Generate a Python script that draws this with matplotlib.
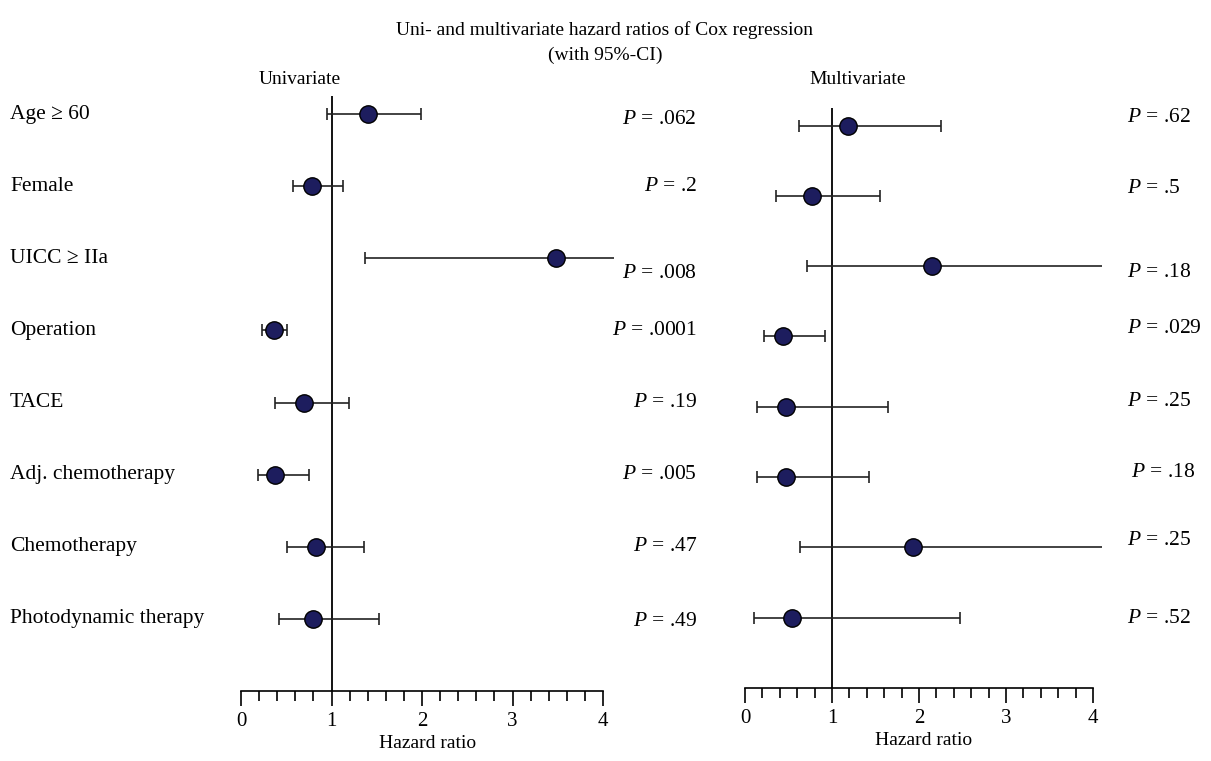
import matplotlib

matplotlib.use("Agg")
import matplotlib.pyplot as plt
import matplotlib.transforms as mtransforms
from matplotlib.ticker import MultipleLocator

plt.rcParams["font.family"] = ["Liberation Serif", "DejaVu Serif"]
plt.rcParams["mathtext.fontset"] = "custom"
plt.rcParams["mathtext.rm"] = "Liberation Serif"
plt.rcParams["mathtext.it"] = "Liberation Serif:italic"

LABELS = [
    "Age \u2265 60", "Female", "UICC \u2265 IIa", "Operation",
    "TACE", "Adj. chemotherapy", "Chemotherapy", "Photodynamic therapy",
]

# univariate hazard ratios with 95% CI
UNI_HR = [1.40, 0.79, 3.48, 0.36, 0.70, 0.38, 0.83, 0.80]
UNI_LO = [0.95, 0.57, 1.37, 0.23, 0.38, 0.19, 0.51, 0.42]
UNI_HI = [1.99, 1.13, 8.80, 0.51, 1.19, 0.75, 1.36, 1.53]
UNI_P = [".062", ".2", ".008", ".0001", ".19", ".005", ".47", ".49"]

# multivariate hazard ratios with 95% CI
MULTI_HR = [1.18, 0.77, 2.15, 0.44, 0.47, 0.47, 1.93, 0.54]
MULTI_LO = [0.62, 0.36, 0.71, 0.22, 0.14, 0.14, 0.63, 0.10]
MULTI_HI = [2.25, 1.55, 6.40, 0.92, 1.64, 1.43, 5.70, 2.47]
MULTI_P = [".62", ".5", ".18", ".029", ".25", ".18", ".25", ".52"]

W, H = 1211, 761
FS = 14          # titles, axis text
FS_ROW = 15.5    # row labels and p-values
DOT = "#1d1d5e"


def px(x0, y_top, x1, y_bot):
    # pixel box -> figure-fraction rect
    return [x0 / W, (H - y_bot) / H, (x1 - x0) / W, (y_bot - y_top) / H]


def forest(ax, hr, lo, hi, xmax):
    rows = list(range(len(hr)))
    err = [[h - l for h, l in zip(hr, lo)], [u - h for h, u in zip(hr, hi)]]
    ax.errorbar(hr, rows, xerr=err, fmt="none", ecolor="#222222", elinewidth=1.2,
                capsize=4.5, capthick=1.2, zorder=2)
    ax.plot(hr, rows, "o", ms=12.5, mfc=DOT, mec="black", mew=1.0, zorder=3, ls="none")
    ax.axvline(1, color="black", lw=1.3, zorder=1)
    ax.set_xlim(0, xmax)
    ax.set_ylim(8, -0.25)
    for s in ("top", "left", "right"):
        ax.spines[s].set_visible(False)
    ax.spines["bottom"].set_bounds(0, 4)
    ax.spines["bottom"].set_linewidth(1.2)
    ax.set_yticks([])
    ax.set_xticks([0, 1, 2, 3, 4])
    ax.xaxis.set_minor_locator(MultipleLocator(0.2))
    ax.tick_params(axis="x", which="major", length=11, width=1.2, labelsize=15, pad=4)
    ax.tick_params(axis="x", which="minor", length=7, width=1.2)
    ax.set_xlabel("Hazard ratio", fontsize=FS, labelpad=3)
    ax.patch.set_alpha(0)


fig = plt.figure(figsize=(W / 100, H / 100), dpi=100)
ax1 = fig.add_axes(px(241, 96, 241 + 4.12 * 90.5, 691))
ax2 = fig.add_axes(px(745, 108, 745 + 4.1 * 87, 688))

forest(ax1, UNI_HR, UNI_LO, UNI_HI, 4.12)
forest(ax2, MULTI_HR, MULTI_LO, MULTI_HI, 4.1)

# row labels
t1 = mtransforms.blended_transform_factory(fig.transFigure, ax1.transData)
for i, lab in enumerate(LABELS):
    ax1.text(10 / W, i, lab, transform=t1, ha="left", va="center", fontsize=FS_ROW)

# p-values
uni_dy = [0.07, 0, 0.21, 0, 0, 0, 0, 0.03]
for i, p in enumerate(UNI_P):
    ax1.text(697 / W, i + uni_dy[i], f"$P$ = {p}", transform=t1,
             ha="right", va="center", fontsize=FS_ROW)

t2 = mtransforms.blended_transform_factory(fig.transFigure, ax2.transData)
multi_dy = [-0.11, -0.1, 0.09, -0.11, -0.08, -0.07, -0.1, 0.01]
multi_dx = [0, 0, 0, 0, 0, 4, 0, 0]
for i, p in enumerate(MULTI_P):
    ax2.text((1127 + multi_dx[i]) / W, i + multi_dy[i], f"$P$ = {p}", transform=t2,
             ha="left", va="center", fontsize=FS_ROW)

fig.text(605 / W, 1 - 30 / H, "Uni- and multivariate hazard ratios of Cox regression",
         ha="center", va="center", fontsize=FS)
fig.text(605 / W, 1 - 55 / H, "(with 95%-CI)", ha="center", va="center", fontsize=FS)
fig.text(300 / W, 1 - 80 / H, "Univariate", ha="center", va="center", fontsize=FS)
fig.text(858 / W, 1 - 80 / H, "Multivariate", ha="center", va="center", fontsize=FS)

fig.savefig("out.png", dpi=100)
